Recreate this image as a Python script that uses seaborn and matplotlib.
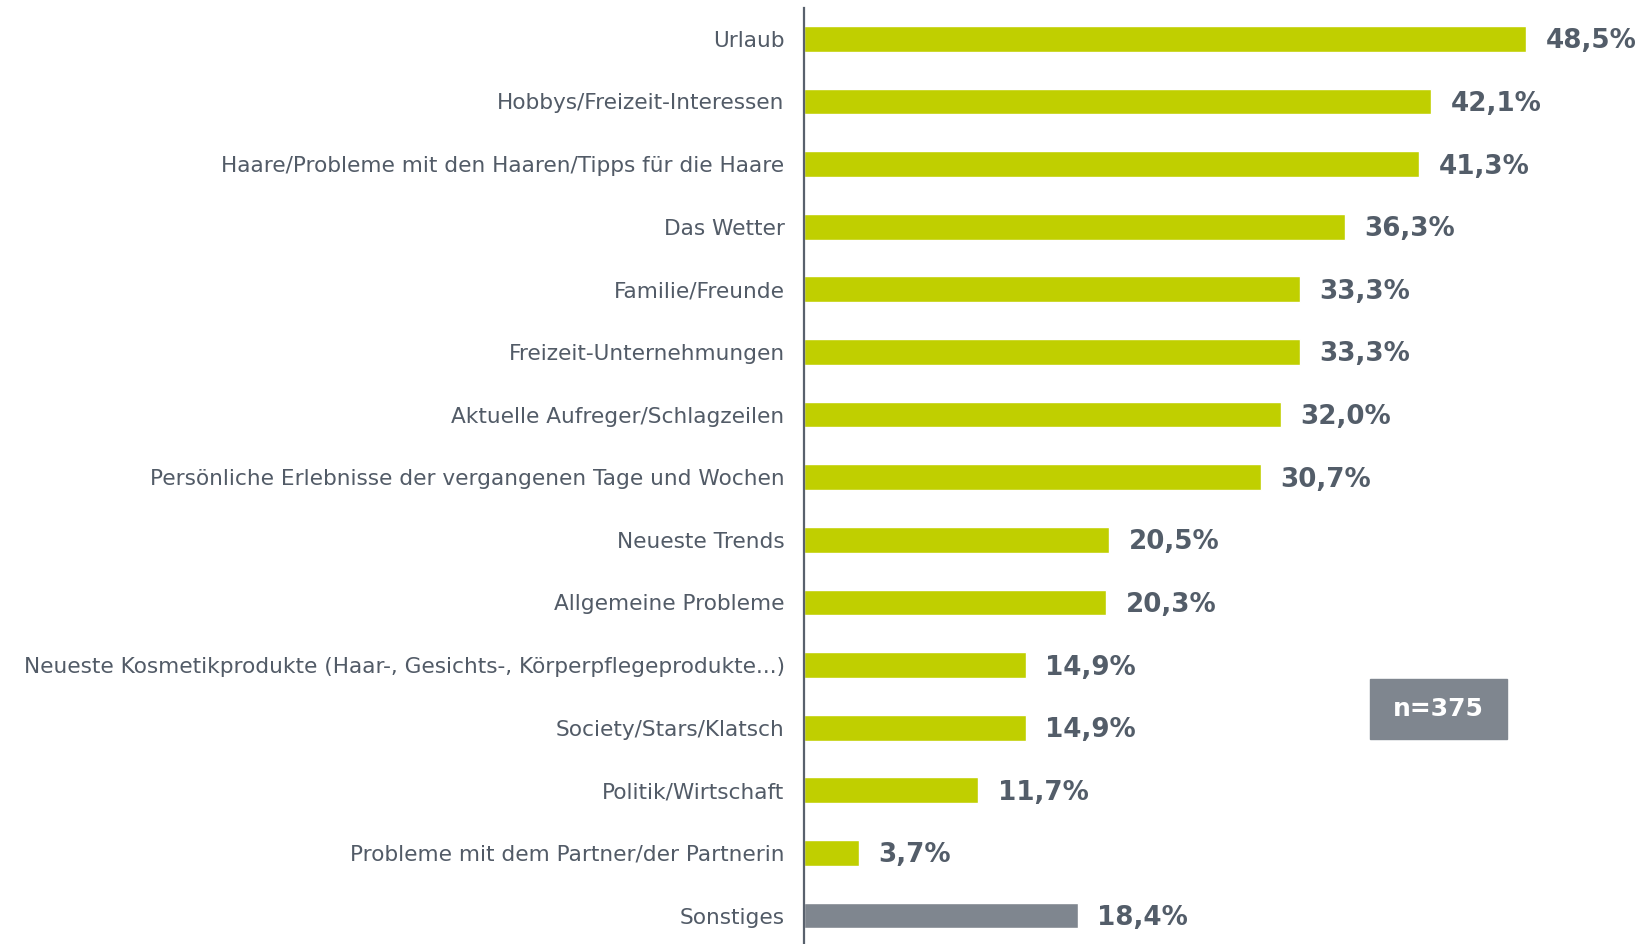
import matplotlib
matplotlib.use("Agg")
import matplotlib.pyplot as plt
import matplotlib.patches as patches
import seaborn as sns
import numpy as np

# data
topics = [
    "Urlaub",
    "Hobbys/Freizeit-Interessen",
    "Haare/Probleme mit den Haaren/Tipps für die Haare",
    "Das Wetter",
    "Familie/Freunde",
    "Freizeit-Unternehmungen",
    "Aktuelle Aufreger/Schlagzeilen",
    "Persönliche Erlebnisse der vergangenen Tage und Wochen",
    "Neueste Trends",
    "Allgemeine Probleme",
    "Neueste Kosmetikprodukte (Haar-, Gesichts-, Körperpflegeprodukte...)",
    "Society/Stars/Klatsch",
    "Politik/Wirtschaft",
    "Probleme mit dem Partner/der Partnerin",
    "Sonstiges",
]
shares = [48.5, 42.1, 41.3, 36.3, 33.3, 33.3, 32.0, 30.7, 20.5, 20.3, 14.9, 14.9, 11.7, 3.7, 18.4]
sample_note = "n=375"

green = "#c0cf00"
grey_bar = "#7f868f"
label_col = "#525b67"
value_col = "#535d69"

sns.set_style("white")
plt.rcParams['font.family'] = ['DejaVu Sans']

fig = plt.figure(figsize=(16.5, 9.44), dpi=100)
ax = fig.add_axes([804 / 1650, -0.003, 1 - 804 / 1650, 0.995])

colors = [green] * (len(topics) - 1) + [grey_bar]
sns.barplot(x=shares, y=topics, hue=topics, palette=colors, orient="h",
            width=0.41, legend=False, ax=ax, saturation=1)

ax.set_xlim(0, 56.8)
ax.set_ylim(len(topics) - 0.5, -0.5)

# value labels
for i, v in enumerate(shares):
    ax.text(v + 1.3, i + 0.04, f"{v:.1f}%".replace(".", ","), va="center", ha="left",
            fontsize=18.8, fontweight="bold", color=value_col)

# axis styling
for s in ["top", "right", "bottom"]:
    ax.spines[s].set_visible(False)
ax.spines["left"].set_color("#59616d")
ax.spines["left"].set_linewidth(1.6)
ax.set_xticks([])
ax.set_xlabel("")
ax.set_ylabel("")
ax.tick_params(axis="y", which="major", length=0, pad=14, labelsize=15.6, labelcolor=label_col)
ax.set_yticks(np.arange(len(topics)) - 0.5, minor=True)
ax.tick_params(axis="y", which="minor", length=5, width=1.4, color="#59616d", direction="out")

# sample size box
fig.patches.append(patches.Rectangle((1370 / 1650, 1 - 739 / 944), 137 / 1650, 60 / 944,
                                     transform=fig.transFigure, color=grey_bar, zorder=3))
fig.text(1438.5 / 1650, 1 - 709 / 944, sample_note, ha="center", va="center",
         fontsize=18, fontweight="bold", color="white", zorder=4)

fig.savefig("out.png", dpi=100)
